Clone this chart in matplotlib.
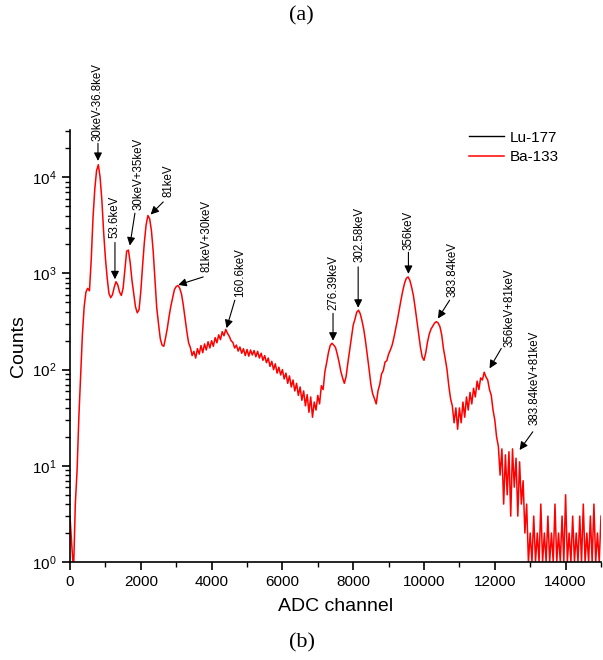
import numpy as np
import matplotlib
matplotlib.use("Agg")
import matplotlib.pyplot as plt
from matplotlib.ticker import MultipleLocator, LogLocator

plt.rcParams["font.family"] = ["Liberation Sans", "DejaVu Sans"]

# ---------------------------------------------------------------------------
# Spectrum data (Ba-133), counts read every 50 ADC channels, 0 .. 15000
# ---------------------------------------------------------------------------
channels = np.arange(0, 15001, 50)

counts = [
    # 0 - 950
    3, 1.5, 0.8, 4, 9, 32, 85, 230, 450, 640, 700, 660, 1400, 3800, 7500, 11700, 13500, 10000, 5800, 2700,
    # 1000 - 1950
    1450, 900, 620, 560, 600, 720, 820, 760, 640, 590, 700, 1100, 1700, 1750, 1300, 850, 620, 450, 390, 420,
    # 2000 - 2950
    650, 1200, 2100, 3200, 4000, 3700, 2800, 1700, 850, 440, 300, 210, 180, 175, 215, 270, 360, 460, 560, 680,
    # 3000 - 3950
    730, 750, 700, 610, 470, 340, 250, 190, 170, 140, 155, 132, 165, 145, 178, 150, 185, 160, 195, 168,
    # 4000 - 4950
    200, 175, 215, 190, 230, 205, 248, 225, 262, 238, 222, 200, 192, 168, 180, 156, 172, 148, 165, 140,
    # 5000 - 5950
    162, 138, 160, 142, 158, 136, 155, 132, 148, 125, 140, 118, 132, 108, 122, 100, 115, 92, 106, 88,
    # 6000 - 6950
    100, 80, 92, 72, 86, 66, 78, 60, 72, 54, 66, 48, 60, 42, 55, 36, 52, 32, 46, 38,
    # 7000 - 7950
    54, 44, 68, 62, 95, 118, 150, 178, 188, 180, 170, 145, 120, 96, 82, 72, 85, 118, 160, 220,
    # 8000 - 8950
    290, 335, 395, 415, 380, 320, 260, 195, 140, 100, 70, 56, 50, 44, 60, 70, 90, 98, 120, 124,
    # 9000 - 9950
    145, 160, 180, 215, 265, 330, 420, 530, 660, 790, 890, 920, 850, 720, 590, 440, 320, 235, 170, 135,
    # 10000 - 10950
    125, 150, 195, 235, 265, 285, 305, 315, 305, 280, 230, 165, 130, 100, 68, 50, 42, 28, 40, 24,
    # 11000 - 11950
    40, 28, 46, 32, 52, 38, 58, 44, 64, 52, 76, 62, 82, 78, 94, 84, 78, 62, 54, 38,
    # 12000 - 12950
    30, 20, 16, 8, 15, 4, 13, 5, 14, 3, 15, 6, 12, 3, 11, 4, 7, 2, 4, 1,
    # 13000 - 13950
    2, 1, 3, 1, 2, 1, 4, 1, 2, 1, 3, 1, 2, 1, 4, 1, 2, 1, 3, 1,
    # 14000 - 15000
    5, 1, 2, 1, 3, 1, 2, 1, 3, 1, 4, 1, 2, 1, 3, 1, 4, 1, 2, 1, 3,
]

# Peak labels: arrow head (channel, counts), arrow tail, and text anchor
peak_labels = ["30keV-36.8keV", "53.6keV", "30keV+35keV", "81keV", "81keV+30keV",
               "160.6keV", "276.39keV", "302.58keV", "356keV", "383.84keV",
               "356keV+81keV", "383.84keV+81keV"]
peak_heads = [(790, 14800), (1270, 870), (1690, 1950), (2277, 4100), (3057, 760),
              (4422, 270), (7430, 200), (8140, 440), (9560, 990), (10394, 340),
              (11852, 103), (12700, 14.6)]
peak_tails = [(790, 22500), (1270, 2100), (1834, 4230), (2634, 5540), (3763, 920),
              (4656, 527), (7430, 385), (8140, 1170), (9560, 1660), (10724, 527),
              (12182, 166), (13074, 22.6)]
label_x = [790, 1270, 1930, 2775, 3857, 4797, 7431, 8184, 9575, 10800, 12417, 13122]
label_y = [23700, 2320, 4540, 6240, 1040, 571, 415, 1317, 1774, 571, 173, 26.5]

# ---------------------------------------------------------------------------
fig = plt.figure(figsize=(6.03, 6.6), dpi=100)
ax = fig.add_axes([70 / 603, 98 / 660, 531 / 603, 432 / 660])

ax.plot([], [], color="black", lw=1.0, label="Lu-177")
ax.plot(channels, counts, color="red", lw=1.1, label="Ba-133")

ax.set_yscale("log")
ax.set_xlim(0, 15000)
ax.set_ylim(1, 3.1e4)

for lab, head, tail, tx, ty in zip(peak_labels, peak_heads, peak_tails, label_x, label_y):
    ax.annotate("", xy=head, xytext=tail,
                arrowprops=dict(arrowstyle="-|>", color="black", lw=0.8,
                                mutation_scale=12, shrinkA=0, shrinkB=0))
    ax.text(tx, ty, lab, rotation=90, ha="center", va="bottom", fontsize=8.3)

ax.spines["top"].set_visible(False)
ax.spines["right"].set_visible(False)
ax.spines["left"].set_linewidth(1.2)
ax.spines["bottom"].set_linewidth(1.2)

ax.xaxis.set_major_locator(MultipleLocator(2000))
ax.xaxis.set_minor_locator(MultipleLocator(1000))
ax.yaxis.set_major_locator(LogLocator(base=10, numticks=10))
ax.yaxis.set_minor_locator(LogLocator(base=10, subs=np.arange(2, 10), numticks=20))
ax.tick_params(which="major", direction="out", length=6, width=1.2, labelsize=11)
ax.tick_params(which="minor", direction="out", length=3.5, width=1.0)

ax.set_xlabel("ADC channel", fontsize=14, labelpad=6)
ax.set_ylabel("Counts", fontsize=14, labelpad=4)

ax.legend(loc="upper left", bbox_to_anchor=(0.725, 1.03), frameon=False,
          fontsize=11, handlelength=2.3, handletextpad=0.4, labelspacing=0.35)

fig.text(0.5, 1 - 16 / 660, "(a)", ha="center", va="center", fontsize=16,
         family=["Liberation Serif", "DejaVu Serif"])
fig.text(0.5, 1 - 643 / 660, "(b)", ha="center", va="center", fontsize=16,
         family=["Liberation Serif", "DejaVu Serif"])

fig.savefig("out.png", dpi=100)
